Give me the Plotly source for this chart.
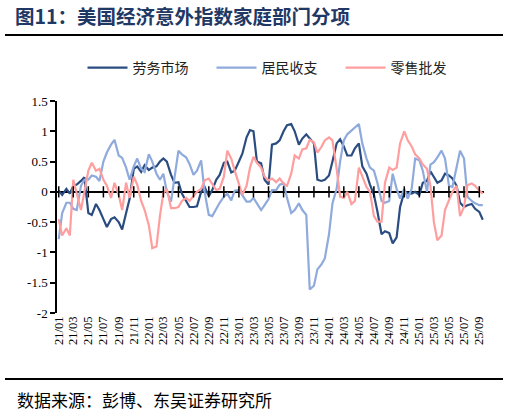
import pandas as pd
import plotly.graph_objects as go

# %% Data: semi-monthly readings, 2021/01 - 2025/09

labor = [
    0.02, -0.05, 0.05, -0.03, 0.10, 0.12, 0.18, 0.24, -0.35, -0.38,
    -0.20, -0.30, -0.45, -0.58, -0.45, -0.42, -0.50, -0.62, -0.35, -0.12,
    0.38, 0.42, 0.33, 0.44, 0.36, 0.40, 0.42, 0.50, 0.55, 0.50,
    0.28, 0.15, 0.16, -0.03, -0.15, -0.25, -0.25, -0.24, 0.00, 0.08,
    -0.07, 0.03, 0.20, 0.28, 0.48, 0.50, 0.32, 0.35, 0.50, 0.63,
    0.90, 1.02, 1.00, 0.50, 0.47, 0.20, 0.12, 0.78, 0.80, 0.85,
    1.00, 1.10, 1.12, 1.00, 0.78, 0.88, 0.95, 0.88, 0.80, 0.20,
    0.18, 0.20, 0.27, 0.50, 0.80, 0.87, 0.75, 0.60, 0.60, 0.72,
    0.80, 0.42, 0.30, 0.12, -0.05, -0.32, -0.70, -0.65, -0.68, -0.85,
    -0.75, -0.25, 0.00, -0.02, -0.03, 0.00, -0.05, 0.15, 0.18, 0.34,
    0.25, 0.15, 0.19, 0.30, 0.27, 0.22, 0.10, -0.18, -0.25, -0.22,
    -0.20, -0.28, -0.33, -0.46,
]

income = [
    -0.78, -0.35, -0.18, -0.18, -0.28, -0.30, 0.10, 0.20, 0.20, 0.27,
    0.25, 0.18, 0.50, 0.65, 0.78, 0.86, 0.60, 0.56, 0.40, 0.20,
    0.42, 0.55, 0.38, 0.33, 0.62, 0.50, 0.30, 0.20, 0.30, 0.00,
    -0.16, 0.25, 0.68, 0.62, 0.57, 0.46, 0.28, 0.35, 0.52, 0.00,
    -0.38, -0.40, -0.28, -0.18, -0.08, -0.03, -0.14, 0.02, 0.03, -0.05,
    -0.16, -0.16, -0.10, -0.19, -0.30, -0.22, -0.12, 0.03, 0.03, 0.12,
    0.14, -0.10, -0.35, -0.30, -0.19, -0.30, -0.38, -1.61, -1.55, -1.28,
    -1.20, -1.10, -0.70, -0.19, 0.05, 0.50, 0.85, 0.95, 1.01, 1.06,
    1.12, 0.80, 0.55, 0.40, 0.35, 0.15, -0.15, -0.18, -0.15, 0.30,
    0.05, -0.11, 0.05, -0.11, 0.05, 0.55, 0.52, 0.35, 0.00, 0.45,
    0.49, 0.57, 0.68, 0.55, 0.10, 0.08, 0.40, 0.68, 0.55, -0.08,
    -0.15, -0.19, -0.22, -0.22,
]

retail = [
    -0.45, -0.72, -0.60, -0.72, 0.20, -0.05, -0.30, 0.00, 0.35, 0.48,
    0.35, 0.38, 0.20, 0.10, -0.10, 0.15, -0.05, -0.30, 0.15, -0.10,
    0.25, 0.12, -0.15, -0.30, -0.55, -0.93, -0.90, -0.40, -0.02, 0.05,
    -0.27, -0.27, -0.25, -0.15, -0.10, -0.15, -0.07, 0.00, 0.05, 0.19,
    0.22, 0.14, 0.03, 0.05, 0.25, 0.68, 0.55, 0.35, 0.12, -0.05,
    0.10, 0.40, 0.58, 0.48, 0.40, 0.25, 0.19, 0.22, 0.16, 0.22,
    0.14, 0.10, 0.30, 0.60, 0.55, 0.70, 0.72, 0.86, 0.82, 0.65,
    0.74, 0.85, 0.90, 0.85, 0.38, -0.08, -0.10, 0.00, -0.20, -0.15,
    0.40, 0.25, 0.08, 0.00, -0.40, -0.49, -0.49, 0.15, 0.40, 0.36,
    0.40, 0.80, 1.00, 0.85, 0.75, 0.62, 0.55, 0.45, 0.38, 0.10,
    -0.50, -0.80, -0.72, -0.30, -0.15, 0.00, 0.10, -0.40, -0.25, 0.11,
    0.14, 0.10, 0.02, -0.03,
]

series_names = ["劳务市场", "居民收支", "零售批发"]
series_colors = ["#2A4C80", "#8FAADC", "#FF9E9E"]

y_ticks = [-2, -1.5, -1, -0.5, 0, 0.5, 1, 1.5]
y_ticktext = ["-2", "-1.5", "-1", "-0.5", "0", "0.5", "1", "1.5"]

dates = pd.date_range("2021-01-01", periods=len(labor), freq="SMS")
tick_dates = pd.date_range("2021-01-01", "2025-09-01", freq="2MS")
tick_labels = [d.strftime("%y/%m") for d in tick_dates]

# plot area in pixels, used to place the title / source / rules
W, H = 510, 413
L, R, T, B = 57, 484, 101, 313
SERIF = "Times New Roman, Liberation Serif, serif"


def px_x(px):
    return (px - L) / (R - L)


def px_y(py):
    return (B - py) / (B - T)


# %% Figure
fig = go.Figure()
for name, vals, color in zip(series_names, [labor, income, retail], series_colors):
    fig.add_trace(go.Scatter(x=dates, y=vals, mode="lines", name=name,
                             line=dict(color=color, width=2.2)))

# Excel-style tick marks sitting on the zero line
fig.add_trace(go.Scatter(
    x=tick_dates, y=[0] * len(tick_dates), mode="markers", showlegend=False, hoverinfo="skip",
    marker=dict(symbol="line-ns", size=8, line=dict(color="black", width=1.5)),
))

rule = dict(type="line", xref="paper", yref="paper", x0=px_x(5), x1=px_x(503),
            layer="above", line=dict(color="black", width=2))

fig.update_layout(
    width=W, height=H,
    margin=dict(l=L, r=W - R, t=T, b=H - B),
    paper_bgcolor="white", plot_bgcolor="white",
    title=dict(text="<b>图11：美国经济意外指数家庭部门分项</b>",
               x=15 / W, xanchor="left", xref="container",
               y=1 - 17 / H, yanchor="middle", yref="container",
               font=dict(family="Noto Sans CJK SC", size=19.5, color="#1F3864")),
    legend=dict(orientation="h", x=px_x(276), xanchor="center", y=px_y(68), yanchor="middle",
                font=dict(family="Noto Sans CJK SC", size=14, color="#222"),
                itemwidth=40, entrywidth=74, bgcolor="rgba(0,0,0,0)"),
    xaxis=dict(type="date", range=["2020-12-25", "2025-09-20"],
               tickvals=tick_dates, ticktext=tick_labels, tickangle=-90,
               showgrid=False, showline=False, ticks="", zeroline=False,
               tickfont=dict(family=SERIF, size=12.5, color="black")),
    yaxis=dict(range=[-2, 1.5], tickvals=y_ticks, ticktext=y_ticktext,
               showgrid=False, showline=True, linecolor="black", linewidth=1.5,
               ticks="outside", ticklen=5, tickwidth=1.5, tickcolor="black",
               zeroline=True, zerolinecolor="black", zerolinewidth=1.5,
               tickfont=dict(family=SERIF, size=13, color="black")),
    shapes=[
        dict(rule, y0=px_y(35), y1=px_y(35)),
        dict(rule, y0=px_y(379), y1=px_y(379)),
    ],
    annotations=[
        dict(text="数据来源：彭博、东吴证券研究所", xref="paper", yref="paper",
             x=px_x(15), xanchor="left", y=px_y(399), yanchor="middle", showarrow=False,
             font=dict(family="Noto Sans CJK SC", size=17, color="black")),
    ],
)

# the page's default 8px body margin would push the figure off the window
fig.write_html("out.html", config={"displayModeBar": False},
               post_script="document.body.style.margin='0';")
